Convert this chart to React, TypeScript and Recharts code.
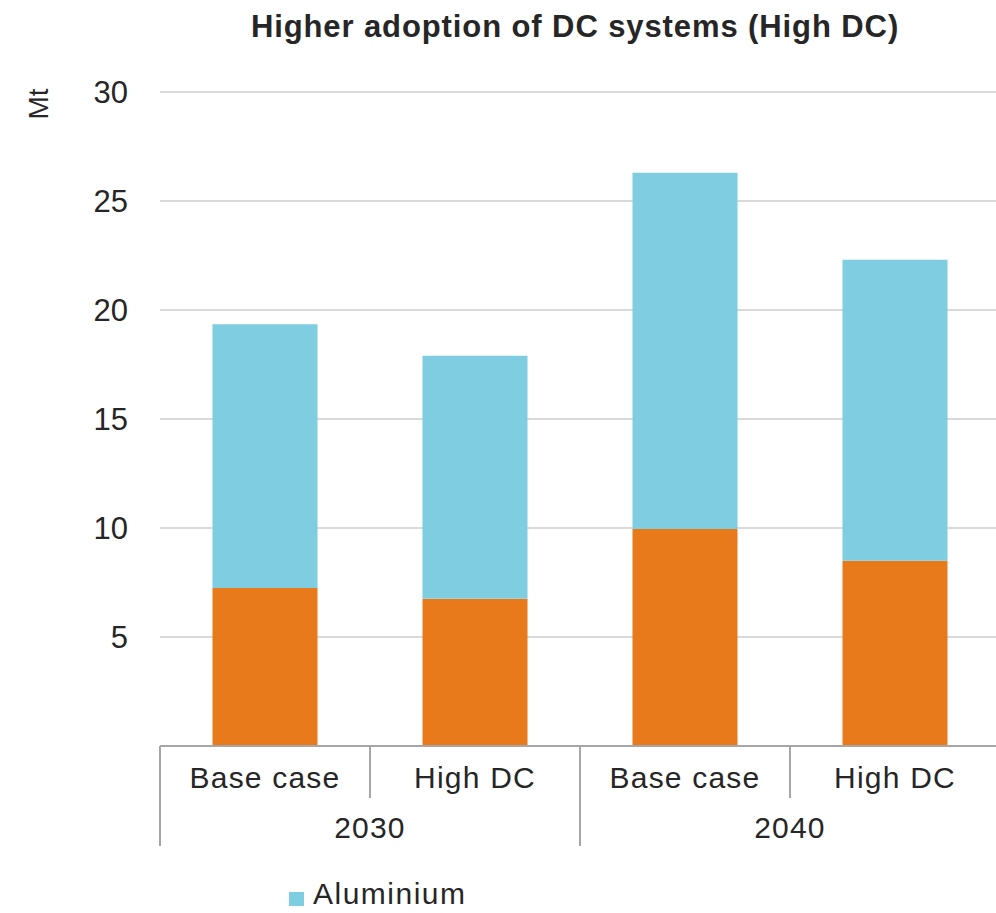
import { Bar, BarChart, CartesianGrid, Legend, XAxis, YAxis } from "recharts";

const scenarios = ["Base case", "High DC", "Base case", "High DC"];
const years = ["2030", "2030", "2040", "2040"];
const copper = [7.25, 6.75, 9.95, 8.5];
const aluminium = [12.1, 11.15, 16.35, 13.8];
const yTicks = [5, 10, 15, 20, 25, 30];

const data = scenarios.map((scenario, i) => ({
  scenario,
  year: years[i],
  copper: copper[i],
  aluminium: aluminium[i]
}));

const FONT = "'Liberation Sans', Arial, sans-serif";
const TEXT = "#262626";
const CHART_W = 1000;
const CHART_H = 913;
const PLOT_LEFT = 160;
const BAND = (CHART_W - PLOT_LEFT) / scenarios.length;

function CategoryTick(props: any) {
  const { x, y, payload, index } = props;
  const left = x - BAND / 2;
  const groupStart = index === 0 || years[index] !== years[index - 1];
  return (
    <g>
      <line
        x1={left}
        x2={left}
        y1={y}
        y2={groupStart ? y + 100 : y + 52}
        stroke="#a6a6a6"
        strokeWidth={2}
      />
      <text x={x} y={y + 42} textAnchor="middle" fontSize={30} letterSpacing={1.2} fill={TEXT} fontFamily={FONT}>
        {payload.value}
      </text>
      {groupStart && (
        <text x={x + BAND / 2} y={y + 92} textAnchor="middle" fontSize={30} letterSpacing={1.2} fill={TEXT} fontFamily={FONT}>
          {years[index]}
        </text>
      )}
    </g>
  );
}

function AluminiumLegend() {
  return (
    <div style={{ display: "flex", alignItems: "flex-start", fontFamily: FONT, fontSize: 30, letterSpacing: 1.5, color: TEXT }}>
      <span style={{ width: 15, height: 14, background: "#7fcde0", marginRight: 9, marginTop: 15, display: "inline-block" }} />
      Aluminium
    </div>
  );
}

export default function App() {
  return (
    <div style={{ position: "absolute", left: 0, top: 0, width: 996, height: 913, overflow: "hidden", background: "#fff" }}>
      <div
        style={{
          position: "absolute",
          top: 9,
          left: 160,
          width: 830,
          textAlign: "center",
          fontFamily: FONT,
          fontWeight: "bold",
          fontSize: 31,
          letterSpacing: 0.9,
          color: TEXT
        }}
      >
        Higher adoption of DC systems (High DC)
      </div>
      <BarChart
        width={CHART_W}
        height={CHART_H}
        data={data}
        margin={{ top: 92, right: 0, bottom: 0, left: 0 }}
        barCategoryGap="25%"
      >
        <CartesianGrid horizontal vertical={false} stroke="#d9d9d9" strokeWidth={2} />
        <XAxis
          dataKey="scenario"
          height={167}
          tickLine={false}
          tickSize={0}
          tickMargin={0}
          axisLine={{ stroke: "#a6a6a6", strokeWidth: 2 }}
          tick={<CategoryTick />}
          interval={0}
        />
        <YAxis
          width={PLOT_LEFT}
          domain={[0, 30]}
          ticks={yTicks}
          axisLine={false}
          tickLine={false}
          tickSize={0}
          tickMargin={32}
          tick={{ fontSize: 31, fill: TEXT, fontFamily: FONT }}
          label={{
            content: () => (
              <text
                x={38}
                y={104}
                transform="rotate(-90 38 104)"
                textAnchor="middle"
                dominantBaseline="central"
                fontSize={28}
                fill={TEXT}
                fontFamily={FONT}
              >
                Mt
              </text>
            )
          }}
        />
        <Bar dataKey="copper" name="Copper" stackId="a" fill="#e97a1c" legendType="none" isAnimationActive={false} />
        <Bar dataKey="aluminium" name="Aluminium" stackId="a" fill="#7fcde0" isAnimationActive={false} />
        <Legend
          verticalAlign="middle"
          content={<AluminiumLegend />}
          wrapperStyle={{ position: "absolute", left: 289, top: 877, width: "auto", height: "auto" }}
        />
      </BarChart>
    </div>
  );
}
